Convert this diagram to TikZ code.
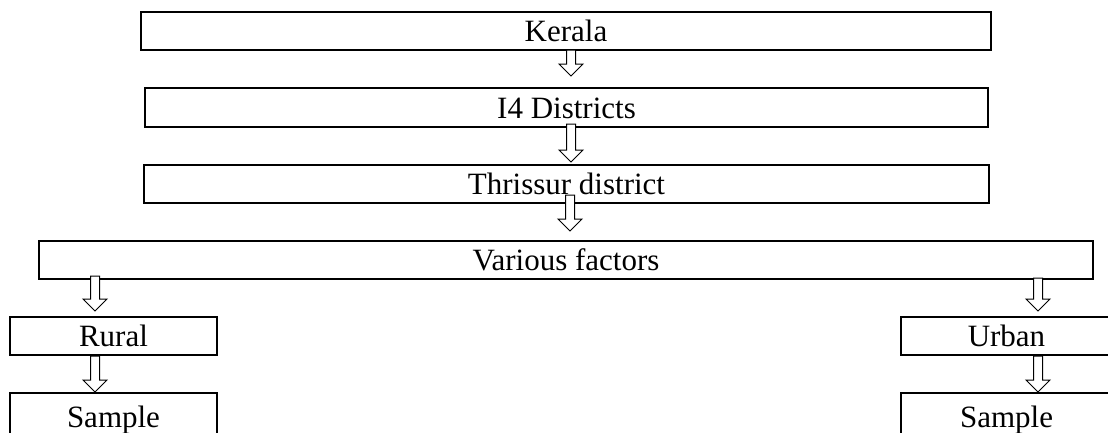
\documentclass[tikz,border=0pt]{standalone}
\usepackage{fontspec}
\setmainfont{Liberation Serif}
\usepackage{tikz}
\usetikzlibrary{calc, positioning}

\begin{document}
\begin{tikzpicture}[x=1pt, y=-1pt]
    \tikzstyle{level} = [rectangle, line width=2pt, draw=black, inner sep=0pt, minimum height=38pt, text height=21pt, text depth=0pt, font=\fontsize{31pt}{36pt}\selectfont]
    \tikzstyle{hollow} = [line width=1pt, draw=black, fill=white, to path={let \p1=(\tikztostart), \p2=(\tikztotarget) in (\x1-4.5pt,\y1) -- (\x1+4.5pt,\y1) -- (\x1+4.5pt,\y2+12pt) -- (\x1+12pt,\y2+12pt) -- (\x1,\y2) -- (\x1-12pt,\y2+12pt) -- (\x1-4.5pt,\y2+12pt) -- cycle}]

    \clip (0,0) rectangle (1108,432);

    \node (kerala) [level, minimum width=850pt] at (566,31) {Kerala};
    \node (dist) [level, minimum width=843pt, minimum height=39pt] at (566.5,107.5) {I4 Districts};
    \node (thrissur) [level, minimum width=845pt] at (566.5,184) {Thrissur district};
    \node (factors) [level, minimum width=1054pt] at (566,260) {Various factors};
    \node (rural) [level, minimum width=207pt] at (113.5,336) {Rural};
    \node (ruralsample) [level, minimum width=207pt, minimum height=41pt, text height=27pt] at (113.5,413.5) {Sample};
    \node (urban) [level, minimum width=211pt] at (1006.5,336) {Urban};
    \node (urbansample) [level, minimum width=211pt, minimum height=41pt, text height=27pt] at (1006.5,413.5) {Sample};

    % block arrows
    \draw [hollow] ($(kerala.south)+(5,-1)$) to ($(dist.north)+(4.5,-11)$);
    \draw [hollow] ($(dist.south)+(4.5,-4)$) to ($(thrissur.north)+(4.5,-2)$);
    \draw [hollow] ($(thrissur.south)+(3.5,-9)$) to ($(factors.north)+(4,-9)$);
    \draw [hollow] ($(rural.north |- factors.south)+(-18.5,-4)$) to ($(rural.north)+(-18.5,-5)$);
    \draw [hollow] ($(rural.south)+(-18.5,0)$) to ($(ruralsample.north)+(-18.5,0)$);
    \draw [hollow] ($(urban.north |- factors.south)+(31.5,-2)$) to ($(urban.north)+(31.5,-5)$);
    \draw [hollow] ($(urban.south)+(31.5,0)$) to ($(urbansample.north)+(31.5,0)$);
\end{tikzpicture}
\end{document}
